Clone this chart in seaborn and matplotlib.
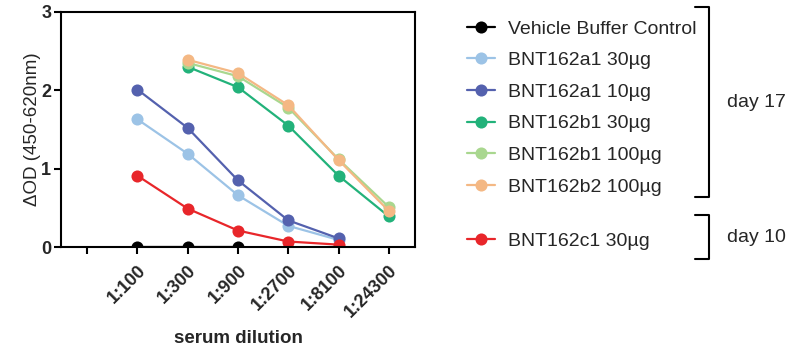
import numpy as np
import pandas as pd
import matplotlib
matplotlib.use("Agg")
import matplotlib.pyplot as plt
from matplotlib.lines import Line2D
import seaborn as sns

# ---- data ----
dilutions = ["1:100", "1:300", "1:900", "1:2700", "1:8100", "1:24300"]
series_names = ["Vehicle Buffer Control", "BNT162a1 30µg", "BNT162a1 10µg",
                 "BNT162b1 30µg", "BNT162b1 100µg", "BNT162b2 100µg", "BNT162c1 30µg"]
vehicle = [0.0, 0.0, 0.0, np.nan, np.nan, np.nan]
a1_30 = [1.63, 1.19, 0.66, 0.27, 0.09, np.nan]
a1_10 = [2.01, 1.52, 0.85, 0.34, 0.11, np.nan]
b1_30 = [np.nan, 2.30, 2.04, 1.55, 0.91, 0.39]
b1_100 = [np.nan, 2.35, 2.18, 1.78, 1.12, 0.51]
b2_100 = [np.nan, 2.39, 2.22, 1.81, 1.11, 0.46]
c1_30 = [0.91, 0.49, 0.21, 0.07, 0.03, np.nan]
colors = ["#000000", "#9CC3E6", "#5461AE", "#22B27A", "#A9D78F", "#F4B884", "#E8262A"]
groups = ["day 17", "day 10"]

values = [vehicle, a1_30, a1_10, b1_30, b1_100, b2_100, c1_30]

rows = []
for name, vals in zip(series_names, values):
    for i, v in enumerate(vals):
        if not np.isnan(v):
            rows.append({"series": name, "pos": i + 1, "od": v})
df = pd.DataFrame(rows)

sns.set_theme(style="ticks")
plt.rcParams["font.family"] = ["Liberation Sans", "DejaVu Sans"]

fig = plt.figure(figsize=(7.87, 3.51), dpi=100)
W, H = 787, 351
ax = fig.add_axes([61 / W, 1 - 247 / H, (415 - 61) / W, (247 - 12) / H])

palette = dict(zip(series_names, colors))
sns.lineplot(data=df, x="pos", y="od", hue="series", hue_order=series_names,
             palette=palette, marker="o", markersize=8.7, markeredgewidth=0,
             linewidth=1.6, errorbar=None, legend=False, ax=ax)

ax.set_xlim(-0.52, 6.52)
ax.set_ylim(0, 3)
ax.set_xticks(range(0, len(dilutions) + 1))
ax.set_xticklabels([""] + dilutions, rotation=45, ha="right",
                   rotation_mode="anchor", fontweight="bold", fontsize=13)
ax.set_yticks([0, 1, 2, 3])
ax.set_yticklabels(["0", "1", "2", "3"], fontweight="bold", fontsize=13)
ax.tick_params(axis="x", width=1.5, length=5, color="black", pad=6)
ax.tick_params(axis="y", width=1.5, length=5, color="black", pad=2)
for s in ax.spines.values():
    s.set_linewidth(1.5)
    s.set_color("black")
ax.set_xlabel("serum dilution", fontweight="bold", fontsize=13.5, labelpad=6)
ax.set_ylabel("ΔOD (450-620nm)", fontsize=13.5, labelpad=0)

# ---- legends ----
def handle(c):
    return Line2D([], [], color=c, marker="o", markersize=8.7, markeredgewidth=0, linewidth=1.6)

leg_kw = dict(frameon=False, fontsize=14, handlelength=1.45, handletextpad=0.65,
              labelspacing=0.72, borderpad=0, borderaxespad=0, loc="upper left")
fig.legend([handle(c) for c in colors[:6]], series_names[:6],
           bbox_to_anchor=(467 / W, 1 - 20 / H), **leg_kw)
fig.legend([handle(colors[6])], series_names[6:],
           bbox_to_anchor=(467 / W, 1 - 232 / H), **leg_kw)

# ---- brackets ----
def bracket(y0, y1):
    xs = [695 / W, 709 / W, 709 / W, 695 / W]
    ys = [1 - y0 / H, 1 - y0 / H, 1 - y1 / H, 1 - y1 / H]
    fig.add_artist(Line2D(xs, ys, transform=fig.transFigure, color="black", linewidth=1.5))

bracket(7, 197)
bracket(215, 259)
fig.text(727 / W, 1 - 103 / H, groups[0], fontsize=14, va="center", ha="left")
fig.text(727 / W, 1 - 237 / H, groups[1], fontsize=14, va="center", ha="left")

fig.savefig("out.png", dpi=100)
